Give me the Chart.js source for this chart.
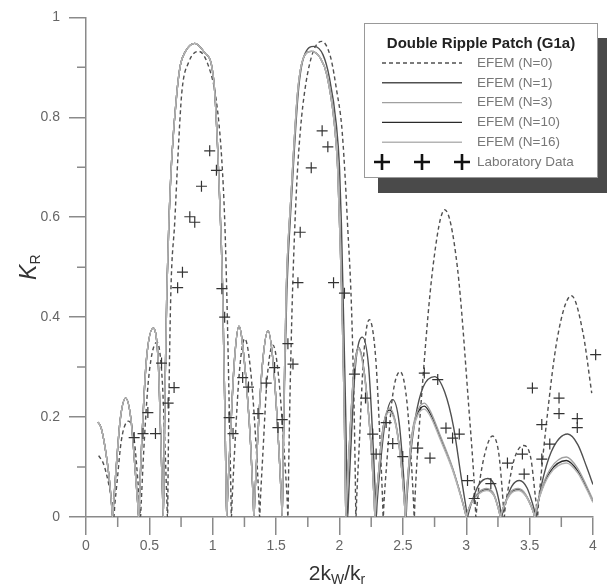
<!DOCTYPE html>
<html>
<head>
<meta charset="utf-8">
<script src="https://cdn.jsdelivr.net/npm/chart.js@4"></script>
<style>
body { margin: 0; background: #fff; }
#wrap { width: 607px; height: 586px; position: relative; }
</style>
</head>
<body>
<div id="wrap"><canvas id="myChart"></canvas></div>
<script>
/* data */
const efem0X = [0.10,0.14,0.18,0.205,0.214,0.22, 0.226,0.245,0.28,0.336,0.38,0.41,0.424,0.43,
	0.436,0.455,0.495,0.56,0.60,0.625,0.637,0.643,
	0.649,0.655,0.67,0.70,0.725,0.756,0.81,0.89,0.97,1.03,1.07,1.095,1.11,1.13,1.141,1.147,
	1.153,1.172,1.21,1.252,1.30,1.345,1.364,1.37, 1.376,1.395,1.43,1.475,1.52,1.565,1.587,1.593,
	1.599,1.61,1.63,1.66,1.69,1.73,1.79,1.86,1.93,1.98,2.016,2.04,2.063,2.094,2.115,2.124,2.13,
	2.136,2.155,2.19,2.235,2.285,2.322,2.339,2.345, 2.351,2.372,2.415,2.478,2.53,2.568,2.584,2.59,
	2.596,2.65,2.737,2.83,2.93,3.02,3.07,3.076, 3.082,3.1,3.15,3.207,3.255,3.282,3.294,3.30,
	3.306,3.328,3.38,3.45,3.51,3.54,3.556,3.562, 3.568,3.625,3.72,3.83,3.92,3.99];
const efem0Y = [0.123,0.105,0.065,0.03,0.013,0, 0.02,0.07,0.155,0.192,0.155,0.07,0.022,0,
	0.03,0.13,0.28,0.35,0.28,0.13,0.04,0,
	0.12,0.25,0.455,0.59,0.72,0.85,0.91,0.932,0.9,0.83,0.72,0.59,0.455,0.22,0.08,0,
	0.035,0.13,0.29,0.357,0.29,0.13,0.035,0, 0.035,0.125,0.28,0.344,0.28,0.125,0.035,0,
	0.1,0.25,0.455,0.653,0.77,0.86,0.93,0.952,0.92,0.85,0.786,0.7,0.588,0.424,0.22,0.09,0,
	0.04,0.14,0.32,0.395,0.32,0.14,0.04,0, 0.03,0.105,0.235,0.291,0.235,0.105,0.03,0,
	0.04,0.25,0.5,0.615,0.5,0.22,0.035,0, 0.015,0.06,0.13,0.162,0.13,0.06,0.018,0,
	0.016,0.053,0.117,0.143,0.117,0.053,0.016,0, 0.02,0.17,0.36,0.443,0.37,0.248];

// solid curves share the first part
const headX = [0.095,0.12,0.15,0.18,0.197,0.204,0.21, 0.216,0.235,0.27,0.313,0.355,0.39,0.409,0.415,
	0.421,0.438,0.475,0.53,0.57,0.592,0.604,0.61,
	0.616,0.623,0.638,0.654,0.677,0.717,0.745,0.78,0.858,0.94,0.99,1.016,1.04,1.06,1.078,1.095,1.104,1.11,
	1.116,1.135,1.17,1.207,1.25,1.30,1.319,1.325, 1.331,1.35,1.39,1.436,1.48,1.522,1.542,1.548];
const headY = [0.19,0.178,0.14,0.085,0.04,0.018,0, 0.022,0.088,0.195,0.238,0.195,0.088,0.024,0,
	0.035,0.14,0.31,0.378,0.31,0.14,0.045,0,
	0.11,0.25,0.455,0.59,0.72,0.85,0.905,0.93,0.948,0.928,0.905,0.85,0.73,0.6,0.455,0.22,0.08,0,
	0.035,0.14,0.31,0.382,0.31,0.14,0.035,0, 0.035,0.135,0.3,0.373,0.3,0.135,0.035,0];

const lobe2X = [1.554,1.563,1.58,1.62,1.67,1.71,1.78,1.85,1.90,1.96,1.985,2.0,2.02,2.037,2.045,2.05];
const lobe2Y = [0.1,0.25,0.455,0.653,0.851,0.915,0.932,0.918,0.885,0.786,0.7,0.588,0.424,0.22,0.08,0];
const lobe2N1X = [1.555,1.565,1.585,1.625,1.675,1.72,1.80,1.87,1.92,1.975,2.0,2.015,2.03,2.048,2.058,2.065];
const lobe2N1Y = [0.1,0.25,0.455,0.653,0.851,0.922,0.942,0.925,0.88,0.786,0.7,0.588,0.424,0.22,0.08,0];

const tailN1X = [2.071,2.088,2.125,2.18,2.23,2.268,2.284,2.29, 2.296,2.315,2.36,2.42,2.47,2.505,2.519,2.525,
	2.531,2.555,2.6,2.66,2.75,2.83,2.9,2.96,3.004,3.01, 3.016,3.05,3.1,3.17,3.23,3.26,3.274,3.28,
	3.286,3.31,3.36,3.42,3.48,3.525,3.544,3.55, 3.556,3.59,3.67,3.8,3.88,3.95,4.0];
const tailN1Y = [0.035,0.13,0.3,0.36,0.3,0.13,0.035,0, 0.025,0.085,0.19,0.235,0.19,0.085,0.025,0,
	0.03,0.11,0.2,0.26,0.281,0.25,0.18,0.08,0.01,0, 0.006,0.035,0.065,0.077,0.06,0.03,0.009,0,
	0.008,0.03,0.062,0.073,0.058,0.025,0.007,0, 0.012,0.06,0.13,0.166,0.145,0.1,0.065];

const tailX = [2.056,2.073,2.11,2.15,2.2,2.255,2.274,2.28, 2.286,2.305,2.345,2.394,2.45,2.497,2.514,2.52,
	2.526,2.545,2.58,2.62,2.67,2.72,2.79,2.89,2.96,2.994,3.0, 3.006,3.04,3.1,3.16,3.22,3.25,3.264,3.27,
	3.276,3.30,3.35,3.41,3.47,3.515,3.534,3.54, 3.546,3.58,3.66,3.79,3.88,3.95,4.0];
const tailN3Y = [0.035,0.12,0.28,0.34,0.28,0.12,0.03,0, 0.025,0.08,0.18,0.218,0.18,0.08,0.022,0,
	0.03,0.1,0.18,0.215,0.228,0.21,0.166,0.1,0.04,0.007,0, 0.006,0.03,0.05,0.057,0.045,0.02,0.006,0,
	0.006,0.025,0.05,0.057,0.045,0.02,0.006,0, 0.008,0.045,0.095,0.12,0.097,0.062,0.034];
const tailN10Y = [0.035,0.12,0.28,0.34,0.28,0.12,0.03,0, 0.025,0.08,0.18,0.214,0.178,0.08,0.022,0,
	0.03,0.098,0.176,0.21,0.222,0.205,0.162,0.098,0.04,0.007,0, 0.006,0.028,0.048,0.055,0.043,0.02,0.006,0,
	0.006,0.024,0.048,0.055,0.043,0.02,0.006,0, 0.008,0.043,0.09,0.113,0.092,0.058,0.031];
const tailN16Y = [0.035,0.12,0.275,0.335,0.275,0.12,0.03,0, 0.024,0.078,0.176,0.21,0.175,0.078,0.021,0,
	0.029,0.095,0.172,0.205,0.216,0.2,0.158,0.095,0.038,0.007,0, 0.006,0.027,0.046,0.053,0.042,0.019,0.006,0,
	0.006,0.023,0.046,0.053,0.042,0.019,0.006,0, 0.008,0.041,0.086,0.108,0.088,0.055,0.029];

const labX = [0.38,0.45,0.488,0.548,0.596,0.648,0.695,0.723,0.761,0.819,0.858,0.911,0.976,1.029,1.072,1.094,
	1.129,1.16,1.236,1.282,1.357,1.422,1.488,1.514,1.548,1.593,1.633,1.672,1.69,1.777,1.863,1.908,1.953,2.039,
	2.118,2.205,2.262,2.289,2.368,2.42,2.499,2.617,2.669,2.714,2.775,2.84,2.892,2.945,3.01,3.063,
	3.194,3.325,3.443,3.457,3.522,3.596,3.596,3.659,3.732,3.732,3.876,3.876,4.021];
const labY = [0.159,0.167,0.209,0.167,0.308,0.228,0.259,0.459,0.49,0.601,0.59,0.662,0.733,0.694,0.457,0.40,
	0.199,0.167,0.279,0.26,0.207,0.268,0.299,0.179,0.195,0.347,0.306,0.469,0.57,0.699,0.773,0.741,0.469,0.448,
	0.286,0.238,0.166,0.126,0.189,0.147,0.121,0.138,0.288,0.118,0.275,0.178,0.158,0.166,0.073,0.037,
	0.067,0.108,0.126,0.086,0.258,0.185,0.116,0.146,0.238,0.207,0.197,0.179,0.325];

const minorX = [0.25,0.75,1.25,1.75,2.25,2.75,3.25,3.75];
const minorY = [0.1,0.3,0.5,0.7,0.9];

const AXIS = "#8a8a8a";
const FONT = "'Liberation Sans', Arial, sans-serif";

function pts(xs, ys) {
	return xs.map(function(x, i) { return { x: x, y: ys[i] }; });
}

function lineSet(label, data, color, dash) {
	return {
		label: label,
		data: data,
		showLine: true,
		borderColor: color,
		borderWidth: 1.4,
		borderDash: dash || [],
		pointRadius: 0,
		fill: false,
		tension: 0.4,
		cubicInterpolationMode: 'monotone',
		order: 1
	};
}

const solidN1 = pts(headX.concat(lobe2N1X, tailN1X), headY.concat(lobe2N1Y, tailN1Y));
const solidN3 = pts(headX.concat(lobe2X, tailX), headY.concat(lobe2Y, tailN3Y));
const solidN10 = pts(headX.concat(lobe2X, tailX), headY.concat(lobe2Y, tailN10Y));
const solidN16 = pts(headX.concat(lobe2X, tailX), headY.concat(lobe2Y, tailN16Y));

// legend entries
const legendRows = [
	{ text: "EFEM (N=0)", color: "#505050", dash: [4, 3] },
	{ text: "EFEM (N=1)", color: "#505050", dash: [] },
	{ text: "EFEM (N=3)", color: "#a0a0a0", dash: [] },
	{ text: "EFEM (N=10)", color: "#2a2a2a", dash: [] },
	{ text: "EFEM (N=16)", color: "#b4b4b4", dash: [] }
];

function drawParts(ctx, parts, cx, cy) {
	let total = 0;
	parts.forEach(function(p) { ctx.font = p[1]; total += ctx.measureText(p[0]).width; });
	let x = cx - total / 2;
	parts.forEach(function(p) {
		ctx.font = p[1];
		ctx.fillText(p[0], x, cy + p[2]);
		x += ctx.measureText(p[0]).width;
	});
}

function cross(ctx, x, y, r) {
	ctx.moveTo(x - r, y); ctx.lineTo(x + r, y);
	ctx.moveTo(x, y - r); ctx.lineTo(x, y + r);
}

const extras = {
	id: 'extras',
	afterDraw: function(chart) {
		const ctx = chart.ctx;
		const xs = chart.scales.x, ys = chart.scales.y;
		ctx.save();

		// minor ticks
		ctx.strokeStyle = AXIS;
		ctx.lineWidth = 1.5;
		ctx.beginPath();
		minorX.forEach(function(v) {
			const p = xs.getPixelForValue(v);
			ctx.moveTo(p, ys.bottom); ctx.lineTo(p, ys.bottom + 10);
		});
		minorY.forEach(function(v) {
			const p = ys.getPixelForValue(v);
			ctx.moveTo(xs.left, p); ctx.lineTo(xs.left - 9, p);
		});
		ctx.stroke();

		// axis titles
		ctx.fillStyle = "#333";
		ctx.textBaseline = "middle";
		drawParts(ctx, [
			["2k", "21px " + FONT, 0],
			["W", "14px " + FONT, 6],
			["/k", "21px " + FONT, 0],
			["r", "14px " + FONT, 6]
		], 337, 574);

		ctx.save();
		ctx.translate(30, (ys.top + ys.bottom) / 2);
		ctx.rotate(-Math.PI / 2);
		drawParts(ctx, [
			["K", "italic 23px " + FONT, 0],
			["R", "14px " + FONT, 6]
		], 0, 0);
		ctx.restore();

		// legend box with shadow
		ctx.fillStyle = "#4a4a4a";
		ctx.fillRect(378, 38, 229, 155);
		ctx.fillStyle = "#fff";
		ctx.fillRect(364, 23, 233, 154);
		ctx.strokeStyle = "#999";
		ctx.lineWidth = 1;
		ctx.strokeRect(364.5, 23.5, 233, 154);

		ctx.fillStyle = "#222";
		ctx.textAlign = "center";
		ctx.font = "bold 15px " + FONT;
		ctx.fillText("Double Ripple Patch (G1a)", 481, 44);

		ctx.textAlign = "left";
		ctx.font = "13.5px " + FONT;
		legendRows.forEach(function(r, i) {
			const y = 63 + i * 19.8;
			ctx.strokeStyle = r.color;
			ctx.lineWidth = 1.4;
			ctx.setLineDash(r.dash);
			ctx.beginPath();
			ctx.moveTo(382, y); ctx.lineTo(462, y);
			ctx.stroke();
			ctx.setLineDash([]);
			ctx.fillStyle = "#777";
			ctx.fillText(r.text, 477, y);
		});
		ctx.strokeStyle = "#111";
		ctx.lineWidth = 2.6;
		ctx.beginPath();
		cross(ctx, 382, 162, 8);
		cross(ctx, 422, 162, 8);
		cross(ctx, 462, 162, 8);
		ctx.stroke();
		ctx.fillStyle = "#777";
		ctx.fillText("Laboratory Data", 477, 162);

		ctx.restore();
	}
};

function tickText(v) {
	return String(+Number(v).toFixed(2));
}

var ctx = document.getElementById("myChart");

var config = {
	type: 'scatter',
	data: {
		datasets: [
			{
				label: 'Laboratory Data',
				data: pts(labX, labY),
				pointStyle: 'cross',
				pointRadius: 5.5,
				borderColor: '#333',
				borderWidth: 1.2,
				clip: 12,
				order: 0
			},
			lineSet('EFEM (N=16)', solidN16, '#b4b4b4'),
			lineSet('EFEM (N=3)', solidN3, '#a0a0a0'),
			lineSet('EFEM (N=1)', solidN1, '#505050'),
			lineSet('EFEM (N=10)', solidN10, '#2a2a2a'),
			lineSet('EFEM (N=0)', pts(efem0X, efem0Y), '#505050', [4, 3])
		]
	},
	options: {
		responsive: true,
		maintainAspectRatio: false,
		animation: false,
		layout: { padding: { left: 0, right: 14, top: 12, bottom: 0 } },
		plugins: {
			legend: { display: false },
			tooltip: { enabled: false }
		},
		scales: {
			x: {
				type: 'linear',
				min: 0,
				max: 4,
				ticks: { stepSize: 0.5, color: '#666', padding: 3, font: { size: 14, family: FONT }, callback: tickText },
				grid: { drawOnChartArea: false, color: AXIS, lineWidth: 1.5, tickLength: 18 },
				border: { color: AXIS, width: 1.5 },
				afterFit: function(scale) { scale.height = 69; }
			},
			y: {
				min: 0,
				max: 1,
				ticks: { stepSize: 0.2, color: '#666', padding: 9, font: { size: 14, family: FONT }, callback: tickText },
				grid: { drawOnChartArea: false, color: AXIS, lineWidth: 1.5, tickLength: 17 },
				border: { color: AXIS, width: 1.5 },
				afterFit: function(scale) { scale.width = 86; }
			}
		}
	},
	plugins: [extras]
};

// chart 생성
var myChart = new Chart(ctx, config);
</script>
</body>
</html>
